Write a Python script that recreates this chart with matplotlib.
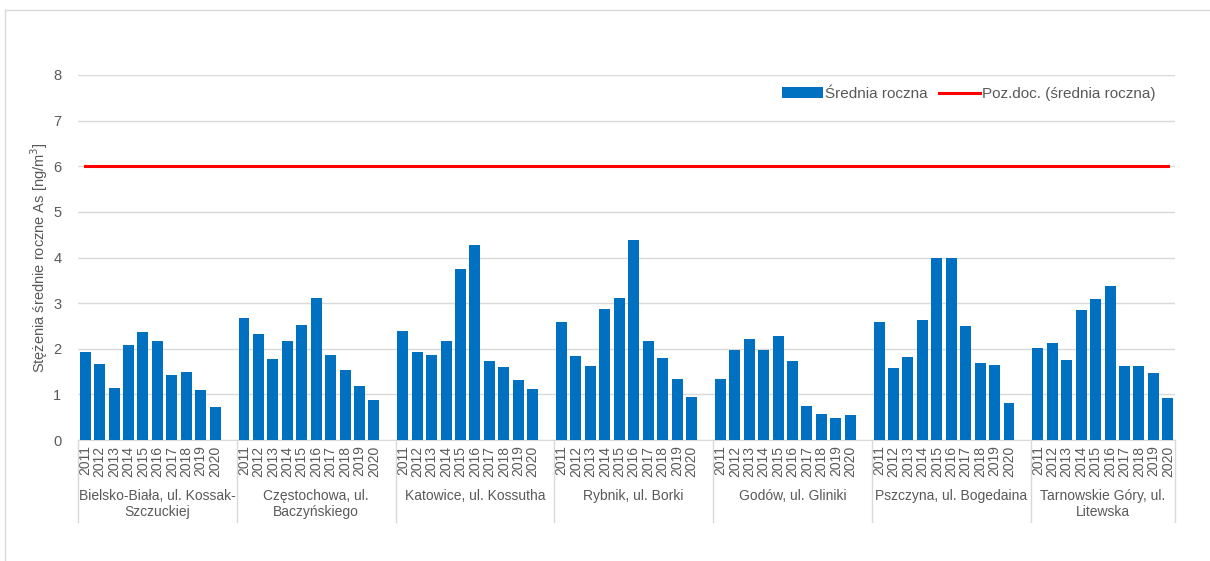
import matplotlib
matplotlib.use("Agg")
import matplotlib.pyplot as plt
from matplotlib.lines import Line2D
import matplotlib.transforms as mtransforms

plt.rcParams['font.family'] = ['Liberation Sans', 'DejaVu Sans']

years = ["2011", "2012", "2013", "2014", "2015", "2016", "2017", "2018", "2019", "2020"]
stations = [
    "Bielsko-Biała, ul. Kossak-\nSzczuckiej",
    "Częstochowa, ul.\nBaczyńskiego",
    "Katowice, ul. Kossutha",
    "Rybnik, ul. Borki",
    "Godów, ul. Gliniki",
    "Pszczyna, ul. Bogedaina",
    "Tarnowskie Góry, ul.\nLitewska",
]
bielsko = [1.93, 1.67, 1.13, 2.08, 2.37, 2.16, 1.42, 1.48, 1.09, 0.72]
czestochowa = [2.67, 2.32, 1.77, 2.18, 2.53, 3.11, 1.87, 1.54, 1.19, 0.88]
katowice = [2.40, 1.93, 1.87, 2.16, 3.74, 4.27, 1.73, 1.59, 1.31, 1.11]
rybnik = [2.58, 1.85, 1.62, 2.88, 3.11, 4.38, 2.18, 1.79, 1.34, 0.95]
godow = [1.33, 1.97, 2.21, 1.97, 2.29, 1.73, 0.74, 0.58, 0.49, 0.55]
pszczyna = [2.59, 1.57, 1.83, 2.64, 3.98, 3.98, 2.49, 1.69, 1.65, 0.82]
tarnowskie = [2.02, 2.13, 1.75, 2.85, 3.10, 3.37, 1.62, 1.62, 1.46, 0.92]
series = [bielsko, czestochowa, katowice, rybnik, godow, pszczyna, tarnowskie]
limit_value = 6.0

BLUE = "#0070C0"
RED = "#FF0000"
GRID = "#D9D9D9"
TXT = "#595959"

fig = plt.figure(figsize=(12.1, 5.61), dpi=100)
fig.add_artist(Line2D([5/1210, 1.0], [1-10/561, 1-10/561], color=GRID, lw=1.0))
fig.add_artist(Line2D([5/1210, 5/1210], [0, 1-10/561], color=GRID, lw=1.0))

ax = fig.add_axes([78/1210, 1-440/561, (1175-78)/1210, (440-75)/561])

slot = len(years) + 1
xs, vals, labels = [], [], []
for g, s in enumerate(series):
    for k, v in enumerate(s):
        xs.append(g*slot + k)
        vals.append(v)
        labels.append(years[k])

bars = ax.bar(xs, vals, width=0.76, color=BLUE, zorder=3, label="Średnia roczna")
line, = ax.plot([xs[0], xs[-1]], [limit_value, limit_value], color=RED, lw=2.2, zorder=4,
                label="Poz.doc. (średnia roczna)")

n_total = len(series)*slot - 1
ax.set_xlim(-0.5, n_total - 0.5)
ax.set_ylim(0, 8)
ax.set_yticks(range(0, 9))
ax.yaxis.grid(True, color=GRID, lw=1.0, zorder=0)
ax.set_axisbelow(True)
for sp in ["top", "right", "left"]:
    ax.spines[sp].set_visible(False)
ax.spines["bottom"].set_color(GRID)
ax.tick_params(axis='y', length=0, pad=12, labelsize=10.5, labelcolor=TXT)
ax.set_xticks(xs)
ax.set_xticklabels(labels, rotation=90, fontsize=10, color=TXT)
ax.tick_params(axis='x', length=0, pad=4)

ax.set_ylabel("Stężenia średnie roczne As [ng/m$^3$]", fontsize=10.5, color=TXT, labelpad=2)

trans = mtransforms.blended_transform_factory(ax.transData, ax.transAxes)
seps = [g*slot - 0.5 for g in range(len(series))] + [n_total - 0.5]
for sx in seps:
    ax.add_artist(Line2D([sx, sx], [0, -82/365], color=GRID, lw=1.0,
                         transform=trans, clip_on=False))
for g, name in enumerate(stations):
    cx = (seps[g] + seps[g+1]) / 2
    ax.text(cx, -49/365, name, transform=trans, ha='center', va='top',
            fontsize=10, color=TXT, linespacing=1.2)

ax.legend(handles=[bars, line], loc='upper right', bbox_to_anchor=(0.995, 1.005), ncol=2,
          frameon=False, fontsize=11, labelcolor=TXT, handlelength=2.7,
          handletextpad=0.15, columnspacing=0.7, handleheight=0.7)

fig.savefig("out.png", dpi=100, facecolor="white")
